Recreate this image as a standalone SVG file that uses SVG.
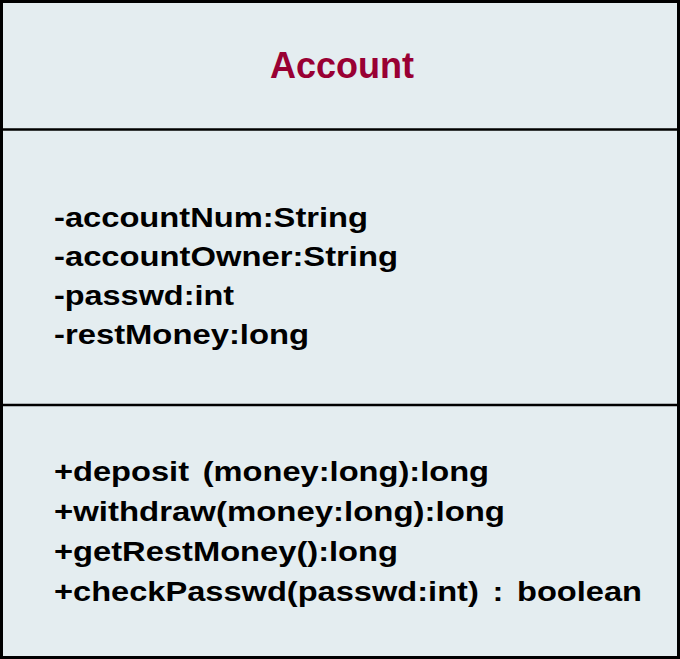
<svg xmlns="http://www.w3.org/2000/svg" width="680" height="659" viewBox="0 0 680 659">
  <style>
    .box { fill: #e4edf0; stroke: #000000; stroke-width: 3; }
    .div { stroke: #000000; stroke-width: 2.5; }
    .title { font-family: "Liberation Sans", Arial, sans-serif; font-weight: bold; font-size: 36px; fill: #990033; }
    .member { font-family: "Liberation Sans", Arial, sans-serif; font-weight: bold; font-size: 28px; fill: #000000; }
    .wide { word-spacing: 4px; }
  </style>
  <g id="Account">
    <rect class="box" x="1.5" y="1.5" width="677" height="656"/>
    <line class="div" x1="0" y1="129.5" x2="680" y2="129.5"/>
    <line class="div" x1="0" y1="405" x2="680" y2="405"/>
    <text class="title" x="342" y="78" text-anchor="middle">Account</text>
    <g id="attributes">
      <text class="member" x="54" y="227" textLength="314" lengthAdjust="spacingAndGlyphs">-accountNum:String</text>
      <text class="member" x="54" y="266" textLength="344" lengthAdjust="spacingAndGlyphs">-accountOwner:String</text>
      <text class="member" x="54" y="305" textLength="180" lengthAdjust="spacingAndGlyphs">-passwd:int</text>
      <text class="member" x="54" y="344" textLength="255" lengthAdjust="spacingAndGlyphs">-restMoney:long</text>
    </g>
    <g id="operations">
      <text class="member wide" x="54" y="481" textLength="435" lengthAdjust="spacingAndGlyphs">+deposit (money:long):long</text>
      <text class="member" x="54" y="521" textLength="451" lengthAdjust="spacingAndGlyphs">+withdraw(money:long):long</text>
      <text class="member" x="54" y="561" textLength="344" lengthAdjust="spacingAndGlyphs">+getRestMoney():long</text>
      <text class="member wide" x="54" y="601" textLength="588" lengthAdjust="spacingAndGlyphs">+checkPasswd(passwd:int) : boolean</text>
    </g>
  </g>
  <g id="connectors"/>
</svg>
